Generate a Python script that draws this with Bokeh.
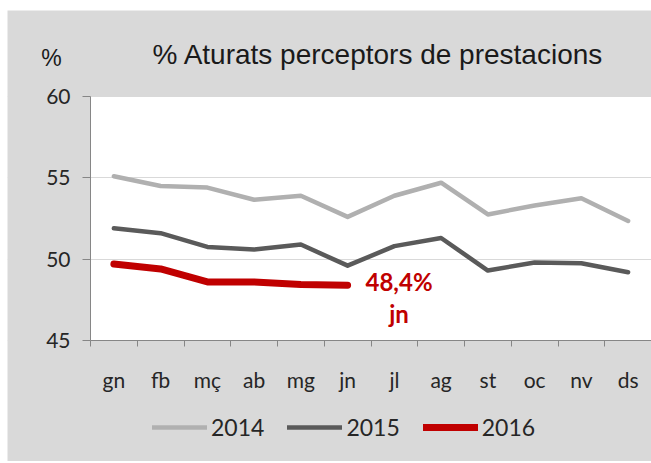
from bokeh.plotting import figure
from bokeh.models import (Range1d, FixedTicker, CustomJSTickFormatter, Label, Legend,
                          LegendItem, BoxAnnotation)
from bokeh.embed import file_html
from bokeh.resources import INLINE

months = ["gn", "fb", "mç", "ab", "mg", "jn", "jl", "ag", "st", "oc", "nv", "ds"]
y2014 = [55.1, 54.5, 54.4, 53.65, 53.9, 52.6, 53.9, 54.7, 52.75, 53.3, 53.75, 52.35]
y2015 = [51.9, 51.6, 50.75, 50.6, 50.9, 49.6, 50.8, 51.3, 49.3, 49.8, 49.75, 49.2]
y2016 = [49.7, 49.4, 48.6, 48.6, 48.45, 48.4]
y_ticks = [45, 50, 55, 60]
title_text = "% Aturats perceptors de prestacions"
unit_text = "%"
last_label = "48,4%"
last_month = "jn"

GREY_BG = "#d9d9d9"
AXIS = "#868686"
TXT = "#262626"

# canvas layout (pixels)
FIG_W, FIG_H = 644, 451
PLOT_L, PLOT_T, PLOT_B = 83, 86, 121
Y_MIN, Y_MAX = y_ticks[0], y_ticks[-1]
n = len(months)
px_x = (FIG_W - PLOT_L) / n
px_y = (FIG_H - PLOT_T - PLOT_B) / (Y_MAX - Y_MIN)

p = figure(width=FIG_W, height=FIG_H, output_backend="svg", toolbar_location=None,
           x_range=Range1d(-PLOT_L / px_x, n),
           y_range=Range1d(Y_MIN - PLOT_B / px_y, Y_MAX + PLOT_T / px_y),
           min_border_left=0, min_border_top=0, min_border_right=0, min_border_bottom=0,
           margin=(10, 0, 0, 7))
p.border_fill_color = GREY_BG
p.background_fill_color = GREY_BG
p.outline_line_color = None

# white plotting area
p.add_layout(BoxAnnotation(left=0, right=n, bottom=Y_MIN, top=Y_MAX, fill_color="white",
                           fill_alpha=1, line_color=None, level="image"))

x_all = [i + 0.5 for i in range(n)]

p.yaxis.fixed_location = 0
p.yaxis.bounds = (Y_MIN, Y_MAX)
p.yaxis.ticker = FixedTicker(ticks=y_ticks)
p.yaxis.axis_line_color = AXIS
p.yaxis.major_tick_line_color = AXIS
p.yaxis.major_tick_out = 8
p.yaxis.major_tick_in = 0
p.yaxis.minor_tick_line_color = None
p.yaxis.major_label_text_font = "Lato"
p.yaxis.major_label_text_font_size = "21px"
p.yaxis.major_label_text_color = TXT
p.yaxis.major_label_standoff = 12

p.xaxis.fixed_location = Y_MIN
p.xaxis.bounds = (0, n)
p.xaxis.ticker = FixedTicker(ticks=x_all, minor_ticks=list(range(n + 1)))
p.xaxis.formatter = CustomJSTickFormatter(args=dict(months=months),
                                          code="return months[Math.floor(tick)]")
p.xaxis.axis_line_color = AXIS
p.xaxis.major_tick_line_color = None
p.xaxis.major_tick_out = 0
p.xaxis.major_tick_in = 0
p.xaxis.minor_tick_line_color = AXIS
p.xaxis.minor_tick_out = 6
p.xaxis.minor_tick_in = 0
p.xaxis.major_label_text_font = "Lato"
p.xaxis.major_label_text_font_size = "21px"
p.xaxis.major_label_text_color = TXT
p.xaxis.major_label_standoff = 20

p.xgrid.grid_line_color = None
p.ygrid.ticker = FixedTicker(ticks=y_ticks)
p.ygrid.grid_line_color = "#d9d9d9"
p.ygrid.grid_line_width = 1

r14 = p.line(x_all, y2014, line_color="#b0b0b0", line_width=4.5, line_cap="round", line_join="round")
r15 = p.line(x_all, y2015, line_color="#5a5a5a", line_width=4.5, line_cap="round", line_join="round")
r16 = p.line(x_all[:len(y2016)], y2016, line_color="#c00000", line_width=7, line_cap="round", line_join="round")

lx = x_all[len(y2016) - 1] + 1.1
p.add_layout(Label(x=lx, y=y2016[-1], text=last_label, text_font="Lato", text_font_style="bold",
                   text_font_size="24px", text_color="#c00000", text_align="center",
                   text_baseline="middle", y_offset=4))
p.add_layout(Label(x=lx, y=y2016[-1], text=last_month, text_font="Lato", text_font_style="bold",
                   text_font_size="24px", text_color="#c00000", text_align="center",
                   text_baseline="middle", y_offset=-28))

# title and unit (screen units from the canvas' bottom-left corner)
p.add_layout(Label(x=145, y=407, x_units="screen", y_units="screen", text=title_text,
                   text_font="Liberation Sans", text_font_size="28px", text_color="#1a1a1a",
                   text_align="left", text_baseline="alphabetic"))
p.add_layout(Label(x=44, y=404, x_units="screen", y_units="screen", text=unit_text,
                   text_font="Liberation Sans", text_font_size="23px", text_color="#1a1a1a",
                   text_align="center", text_baseline="middle"))

legend = Legend(items=[LegendItem(label="2014", renderers=[r14]),
                       LegendItem(label="2015", renderers=[r15]),
                       LegendItem(label="2016", renderers=[r16])],
                orientation="horizontal", location=(145, 20),
                glyph_width=55, glyph_height=20, label_standoff=4, spacing=23,
                padding=0, margin=0, border_line_alpha=0, background_fill_alpha=0,
                label_text_font="Lato", label_text_font_size="23px", label_text_color=TXT)
p.add_layout(legend)

open("out.html", "w").write(file_html(p, INLINE))
